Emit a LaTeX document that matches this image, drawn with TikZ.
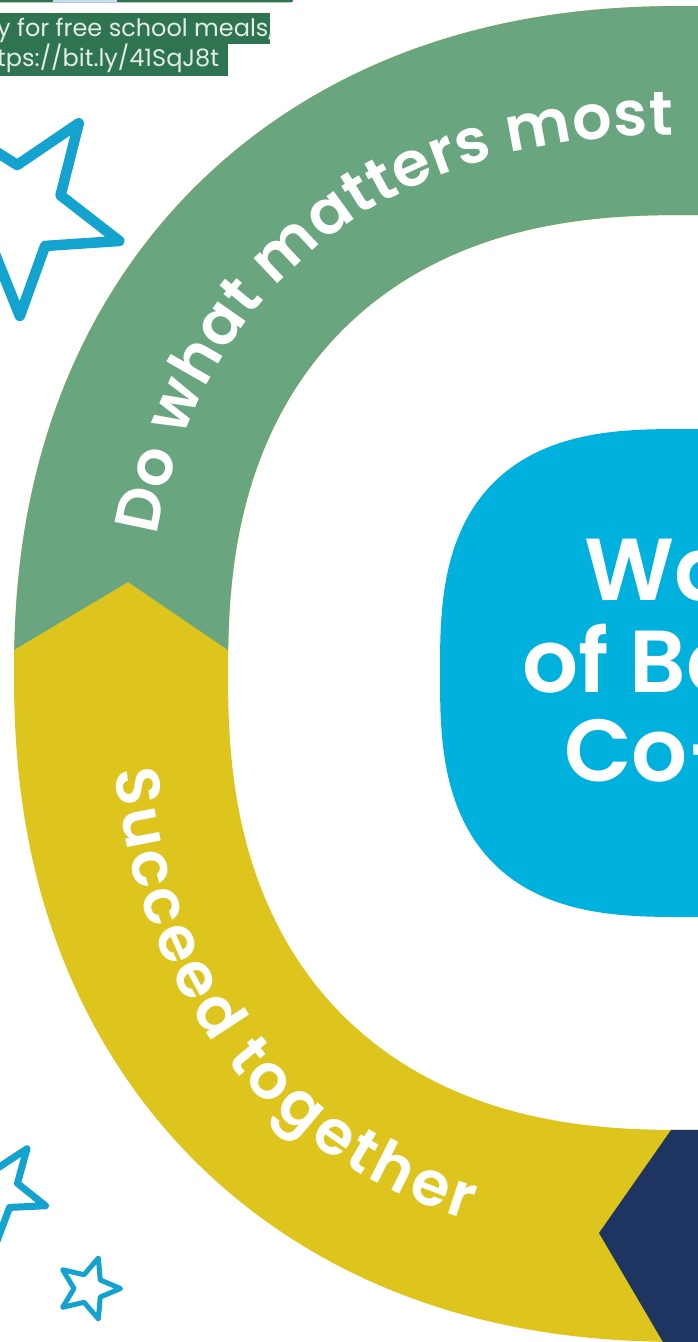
\documentclass[tikz,border=0pt]{standalone}
\usepackage{fontspec}
\setmainfont{Poppins}
\newfontfamily\popsemi[UprightFont=*-SemiBold]{Poppins}
\usetikzlibrary{decorations.text}
\definecolor{ringgreen}{HTML}{69A680}
\definecolor{ringyellow}{HTML}{DEC51E}
\definecolor{ringnavy}{HTML}{1E3562}
\definecolor{coreblue}{HTML}{00B1DD}
\definecolor{starblue}{HTML}{14A3CE}
\definecolor{hlgreen}{HTML}{2F7450}
\definecolor{hltext}{HTML}{E4ECE6}
\definecolor{stripblue}{HTML}{C5DDF0}
\newcommand\superell[5]{plot[domain=0.5:359.5,samples=360,variable=\t]({#1+#3*cos(\t)*pow(abs(cos(\t)),2/#5-1)},{#2+#4*sin(\t)*pow(abs(sin(\t)),2/#5-1)}) -- cycle }
\newcommand\starpath[5]{([shift={(#1,#2)}]{#5}:{#3}) -- ([shift={(#1,#2)}]{#5+36}:{#4}) -- ([shift={(#1,#2)}]{#5+72}:{#3}) -- ([shift={(#1,#2)}]{#5+108}:{#4}) -- ([shift={(#1,#2)}]{#5+144}:{#3}) -- ([shift={(#1,#2)}]{#5+180}:{#4}) -- ([shift={(#1,#2)}]{#5+216}:{#3}) -- ([shift={(#1,#2)}]{#5+252}:{#4}) -- ([shift={(#1,#2)}]{#5+288}:{#3}) -- ([shift={(#1,#2)}]{#5+324}:{#4}) -- cycle}
\newcommand\ringfont{\popsemi\fontsize{62}{62}\selectfont}
\begin{document}
\begin{tikzpicture}[x=1pt,y=-1pt,
  bluetext/.style={anchor=base west,inner sep=0pt,text=white,font=\popsemi\fontsize{88}{88}\selectfont},
  hltxt/.style={anchor=base west,inner sep=0pt,text=hltext,font=\fontsize{24}{24}\selectfont},
  starline/.style={draw=starblue,line join=round,line cap=round},
  ringtext/.style={decorate,decoration={text effects along path,text={#1},
     text effects/.cd,text along path,fit text to path,characters={text=white,font=\ringfont}}}]
\useasboundingbox (0,0) rectangle (698,1342);
\fill[white] (0,0) rectangle (698,1342);
% ring
\fill[ringyellow,even odd rule] \superell{685}{674}{671}{668}{2.2} \superell{685}{672.5}{457}{457.5}{2.4};
\begin{scope}
\clip (-60,-60) -- (800,-60) -- (800,699) -- (300,699) -- (128,582) -- (-60,694) -- cycle;
\fill[ringgreen,even odd rule] \superell{685}{674}{671}{668}{2.2} \superell{685}{672.5}{457}{457.5}{2.4};
\end{scope}
\begin{scope}
\clip (734,1040) -- (599,1233) -- (700,1405) -- (800,1405) -- (800,1040) -- cycle;
\fill[ringnavy,even odd rule] \superell{685}{674}{671}{668}{2.2} \superell{685}{672.5}{457}{457.5}{2.4};
\end{scope}
% ring texts
\path[ringtext={Do what matters most}]
  plot[domain=192:269.3,samples=160,variable=\t]({685+538*cos(\t)*pow(abs(cos(\t)),2/2.3-1)},{673+538*sin(\t)*pow(abs(sin(\t)),2/2.3-1)});
\path[ringtext={Succeed together}]
  plot[domain=0.5:64,samples=130,variable=\t]({685+574*cos(173-\t)*pow(abs(cos(173-\t)),2/2.3-1)},{673+574*sin(173-\t)*pow(abs(sin(173-\t)),2/2.3-1)});
% centre
\fill[coreblue] \superell{685}{673}{245}{244}{2.8};
\node[bluetext] (l1) at (584,600) {Wa};
\node[bluetext] (l2) at (522,692) {of Be};
\node[bluetext] (l3) at (564,781) {Co-};
% top-left strip and highlighted text
\fill[hlgreen,rounded corners=2pt] (-10,-6) rectangle (293,2.4);
\fill[stripblue] (53,-6) rectangle (117,2.4);
\fill[hlgreen] (0,12.7) rectangle (270,43.6);
\fill[hlgreen] (0,43.4) rectangle (228,76);
\node[hltxt] (t1) at (-3,36) {y for free school meals,};
\node[hltxt] (t2) at (-3,66) {tps://bit.ly/41SqJ8t};
% stars
\draw[starline,line width=10.5pt] \starpath{18}{210}{106}{45}{-55};
\draw[starline,line width=7pt] \starpath{-3}{1190}{51}{21.5}{-54};
\draw[starline,line width=5pt] \starpath{88.5}{1288.5}{32}{14.5}{0};
\end{tikzpicture}
\end{document}
